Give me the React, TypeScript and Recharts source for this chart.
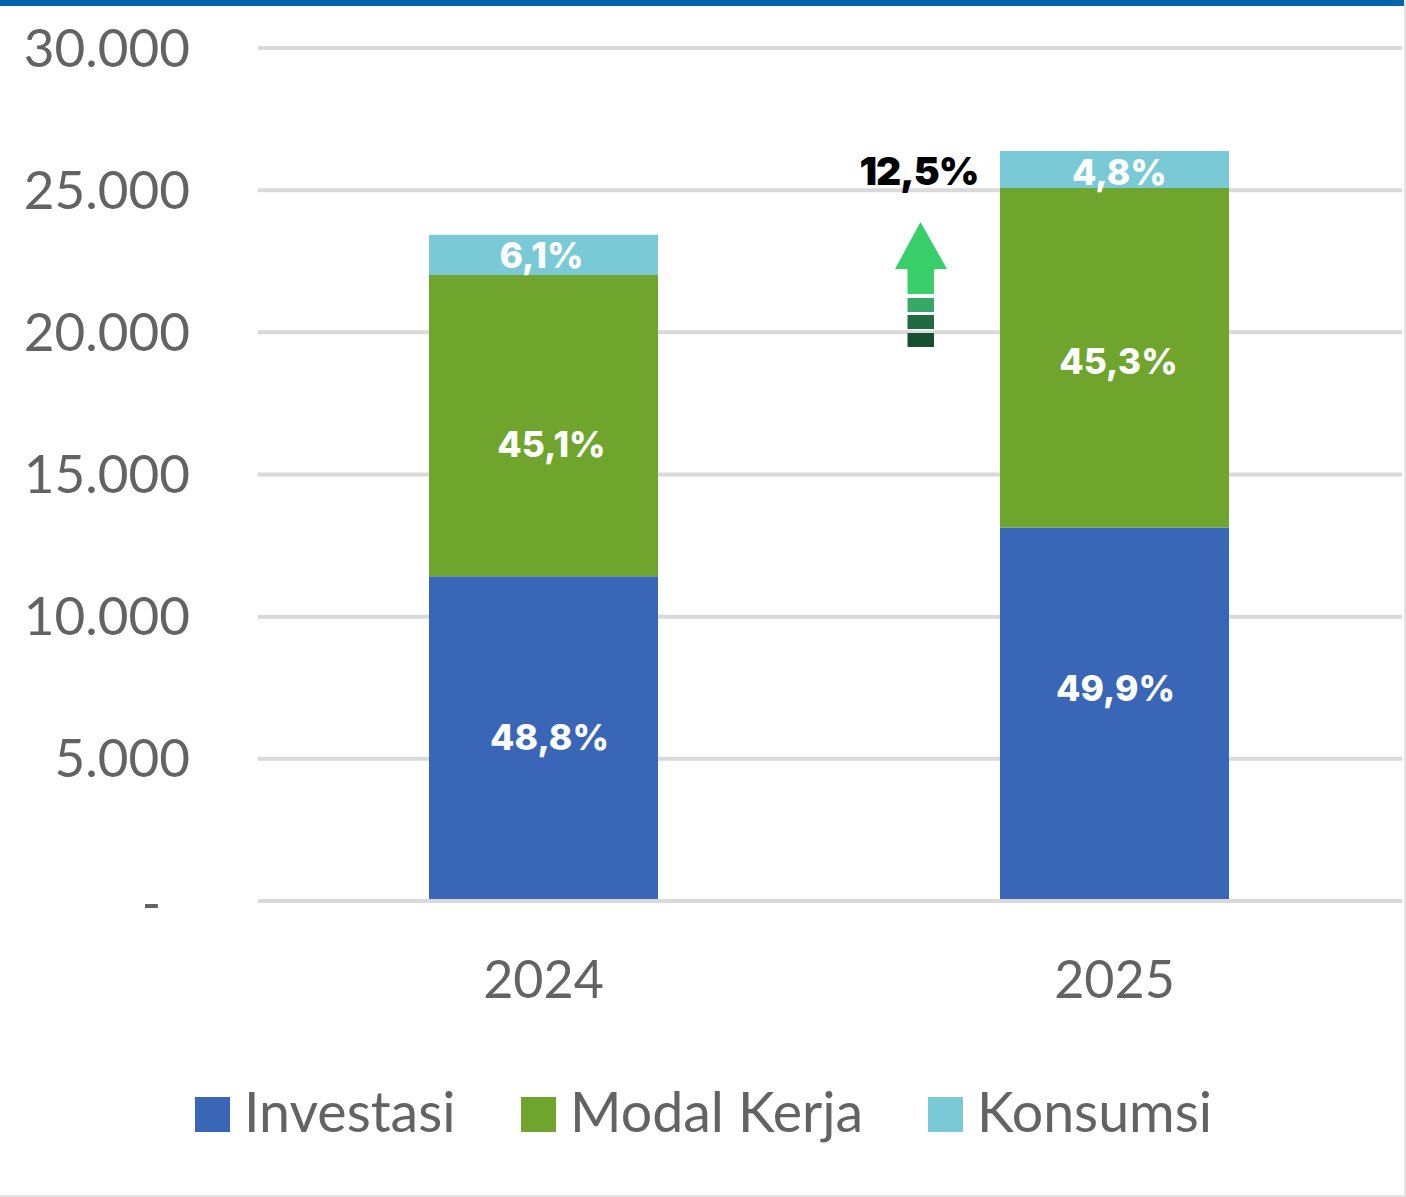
import React from "react";
import { BarChart, Bar, XAxis, YAxis, CartesianGrid, Legend, LabelList } from "recharts";

const years = ["2024", "2025"];
const investasi = [11420, 13140];
const modalKerja = [10600, 11940];
const konsumsi = [1410, 1300];
const investasiLabels = ["48,8%", "49,9%"];
const modalKerjaLabels = ["45,1%", "45,3%"];
const konsumsiLabels = ["6,1%", "4,8%"];
const yTicks = [0, 5000, 10000, 15000, 20000, 25000, 30000];
const growthLabel = "12,5%";
const seriesNames = ["Investasi", "Modal Kerja", "Konsumsi"];
const seriesColors = ["#3966B6", "#6FA52D", "#79CAD6"];

const rows = years.map((year, i) => ({
  year,
  investasi: investasi[i],
  modalKerja: modalKerja[i],
  konsumsi: konsumsi[i],
}));

const AXIS_FONT = "Lato, Carlito, sans-serif";
const LABEL_FONT = "Inter, 'Open Sans', sans-serif";
const GRID = "#D9D9D9";
const TEXT = "#636363";

const labelNudges: Record<string, [number, number][]> = {
  investasi: [[6, -1], [1, -26]],
  modalKerja: [[8, 19], [4, 4]],
  konsumsi: [[-2, 1], [5, 3]],
};

const segmentLabel = (texts: string[], key: string, fontSize: number) => (p: any) => {
  const [dx, dy] = labelNudges[key][p.index];
  return (
    <text
      x={p.x + p.width / 2 + dx}
      y={p.y + p.height / 2 + dy}
      textAnchor="middle"
      dominantBaseline="central"
      fill="#FFFFFF"
      fontFamily={LABEL_FONT}
      fontWeight={800}
      fontSize={fontSize}
    >
      {texts[p.index]}
    </text>
  );
};

const YTick = (p: any) => {
  const v = p.payload.value;
  return v === 0 ? (
    <text x={161} y={p.y + 1} textAnchor="end" dominantBaseline="central" fill={TEXT} fontFamily={AXIS_FONT} fontSize={52}>
      -
    </text>
  ) : (
    <text x={190} y={p.y - 2} textAnchor="end" dominantBaseline="central" fill={TEXT} fontFamily={AXIS_FONT} fontSize={53}>
      {v.toLocaleString("de-DE")}
    </text>
  );
};

const XTick = (p: any) => (
  <text x={p.x} y={978} textAnchor="middle" dominantBaseline="central" fill={TEXT} fontFamily={AXIS_FONT} fontSize={52}>
    {p.payload.value}
  </text>
);

const legendX = [195, 521, 928];

const LegendContent = () => (
  <div style={{ position: "relative", height: 0 }}>
    {seriesNames.map((name, i) => (
      <div key={name}>
        <div style={{ position: "absolute", left: legendX[i], top: 1097, width: 35, height: 35, background: seriesColors[i] }} />
        <div
          style={{
            position: "absolute",
            left: legendX[i] + 49,
            top: 1077,
            lineHeight: "68px",
            whiteSpace: "nowrap",
            color: TEXT,
            fontFamily: AXIS_FONT,
            fontSize: 55.5,
          }}
        >
          {name}
        </div>
      </div>
    ))}
  </div>
);

export default function App() {
  return (
    <div style={{ position: "fixed", left: 0, top: 0, width: 1406, height: 1197, background: "#fff", overflow: "hidden" }}>
      <BarChart
        width={1406}
        height={1197}
        data={rows}
        margin={{ top: 48, right: 4, bottom: 0, left: 0 }}
        barCategoryGap="0%"
      >
        <CartesianGrid horizontal vertical={false} stroke={GRID} strokeWidth={4} />
        <XAxis
          dataKey="year"
          height={296}
          padding={{ left: 0, right: 2 }}
          axisLine={{ stroke: GRID, strokeWidth: 4 }}
          tickLine={false}
          tick={<XTick />}
        />
        <YAxis width={258} domain={[0, 30000]} ticks={yTicks} axisLine={false} tickLine={false} tick={<YTick />} interval={0} />
        <Legend content={<LegendContent />} wrapperStyle={{ left: 0, top: 0, width: 1406, height: 0 }} />
        <Bar dataKey="investasi" stackId="a" fill={seriesColors[0]} barSize={229} isAnimationActive={false}>
          <LabelList content={segmentLabel(investasiLabels, "investasi", 35.5) as any} />
        </Bar>
        <Bar dataKey="modalKerja" stackId="a" fill={seriesColors[1]} barSize={229} isAnimationActive={false}>
          <LabelList content={segmentLabel(modalKerjaLabels, "modalKerja", 35.5) as any} />
        </Bar>
        <Bar dataKey="konsumsi" stackId="a" fill={seriesColors[2]} barSize={229} isAnimationActive={false}>
          <LabelList content={segmentLabel(konsumsiLabels, "konsumsi", 35.5) as any} />
        </Bar>
        <text x={919} y={170} textAnchor="middle" dominantBaseline="central" fill="#000" fontFamily={LABEL_FONT} fontWeight={900} fontSize={39} letterSpacing={-1}>
          {growthLabel}
        </text>
        <polygon points="920.5,222 947,269 934,269 934,294 907.5,294 907.5,269 895,269" fill="#38CE6A" />
        <rect x={907.5} y={298} width={26.5} height={14} fill="#36A968" />
        <rect x={907.5} y={315} width={26.5} height={14} fill="#216B43" />
        <rect x={907.5} y={333} width={26.5} height={14} fill="#184F30" />
      </BarChart>
      <div style={{ position: "absolute", left: 0, top: 0, width: 1406, height: 6, background: "#0563AC" }} />
      <div style={{ position: "absolute", left: 1404, top: 0, width: 2, height: 1197, background: "#E4E4E4" }} />
      <div style={{ position: "absolute", left: 0, top: 1195, width: 1406, height: 2, background: "#E4E4E4" }} />
    </div>
  );
}
